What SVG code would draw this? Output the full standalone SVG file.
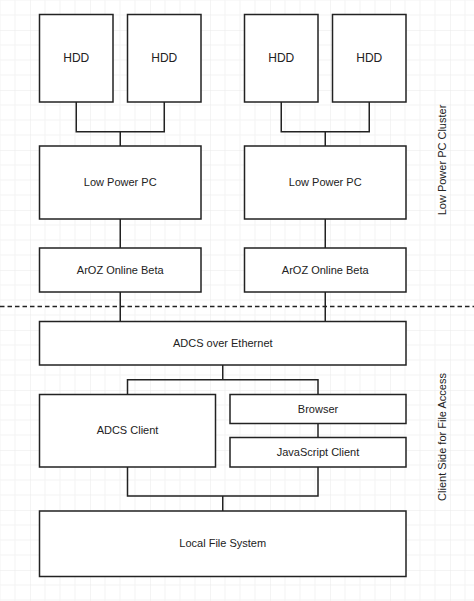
<svg xmlns="http://www.w3.org/2000/svg" width="474" height="601" viewBox="0 0 474 601">
<style>
.box{fill:#fff;stroke:#222;stroke-width:1.5}
.lbl{font-family:"Liberation Sans",Arial,sans-serif;font-size:11px;fill:#222;text-anchor:middle}
.hdd{font-size:12px}
.con{fill:none;stroke:#222;stroke-width:1.5}
</style>
<defs>
<pattern id="grid" x="30" y="30" width="60" height="60" patternUnits="userSpaceOnUse">
<path d="M15 0V60M30 0V60M45 0V60M0 15H60M0 30H60M0 45H60" fill="none" stroke="#f3f3f3" stroke-width="1"/>
<path d="M0 0V60M0 0H60" fill="none" stroke="#e9e9e9" stroke-width="1"/>
</pattern>
</defs>
<rect width="474" height="601" fill="#fff"/>
<rect width="474" height="601" fill="url(#grid)"/>
<g id="connectors">
<path class="con" d="M76.25 102V131.75H164.25V102M120.25 131.75V146"/>
<path class="con" d="M281.25 102V131.75H369.25V102M325.25 131.75V146"/>
<path class="con" d="M120.25 219V248M120.25 292V321.5"/>
<path class="con" d="M325.25 219V248M325.25 292V321.5"/>
<path class="con" d="M222.75 365V379.75M127.5 394.5V379.75H318V394.5"/>
<path class="con" d="M318 423.5V437.5"/>
<path class="con" d="M127.5 467V496H318V467M222.75 496V511"/>
</g>
<g id="divider">
<path d="M0 306.5H474" fill="none" stroke="#222" stroke-width="1.5" stroke-dasharray="4.5 3"/>
</g>
<g id="hdd1"><rect class="box" x="39.5" y="14.5" width="73.5" height="87.5"/><text class="lbl hdd" x="76.25" y="61.8">HDD</text></g>
<g id="hdd2"><rect class="box" x="127.5" y="14.5" width="73.5" height="87.5"/><text class="lbl hdd" x="164.25" y="61.8">HDD</text></g>
<g id="hdd3"><rect class="box" x="244.5" y="14.5" width="73.5" height="87.5"/><text class="lbl hdd" x="281.25" y="61.8">HDD</text></g>
<g id="hdd4"><rect class="box" x="332.5" y="14.5" width="73.5" height="87.5"/><text class="lbl hdd" x="369.25" y="61.8">HDD</text></g>
<g id="pc1"><rect class="box" x="39.5" y="146" width="161.5" height="73"/><text class="lbl" x="120.25" y="185.5">Low Power PC</text></g>
<g id="pc2"><rect class="box" x="244.5" y="146" width="161.5" height="73"/><text class="lbl" x="325.25" y="185.5">Low Power PC</text></g>
<g id="aroz1"><rect class="box" x="39.5" y="248" width="161.5" height="44"/><text class="lbl" x="120.25" y="273.5">ArOZ Online Beta</text></g>
<g id="aroz2"><rect class="box" x="244.5" y="248" width="161.5" height="44"/><text class="lbl" x="325.25" y="273.5">ArOZ Online Beta</text></g>
<g id="adcs-eth"><rect class="box" x="39.5" y="321.5" width="366.5" height="43.5"/><text class="lbl" x="222.75" y="346.7">ADCS over Ethernet</text></g>
<g id="adcs-client"><rect class="box" x="39.5" y="394.5" width="176" height="72.5"/><text class="lbl" x="127.5" y="434">ADCS Client</text></g>
<g id="browser"><rect class="box" x="230" y="394.5" width="176" height="29"/><text class="lbl" x="318" y="412.5">Browser</text></g>
<g id="js-client"><rect class="box" x="230" y="437.5" width="176" height="29.5"/><text class="lbl" x="318" y="455.8">JavaScript Client</text></g>
<g id="lfs"><rect class="box" x="39.5" y="511" width="366.5" height="65.5"/><text class="lbl" x="222.75" y="547">Local File System</text></g>
<g id="label-cluster"><text class="lbl" transform="translate(445.5,160) rotate(-90)">Low Power PC Cluster</text></g>
<g id="label-client"><text class="lbl" transform="translate(445.5,437) rotate(-90)">Client Side for File Access</text></g>
</svg>
